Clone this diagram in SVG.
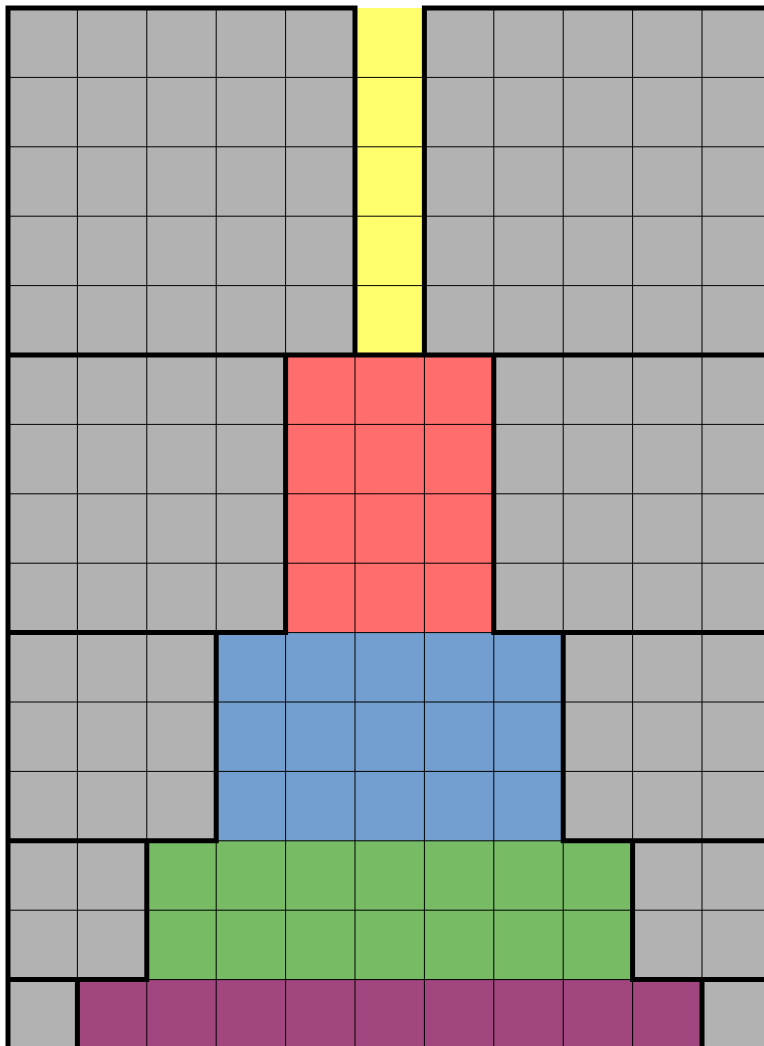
<svg xmlns="http://www.w3.org/2000/svg" width="764" height="1046" viewBox="0 0 764 1046">
  <style>
    .grid { fill: none; stroke: #000; stroke-width: 1; }
    .thick { fill: none; stroke: #000; stroke-width: 5; stroke-linecap: square; stroke-linejoin: miter; }
  </style>
  <rect width="764" height="1046" fill="#ffffff"/>
  <g id="gray-area"><rect x="8" y="8" width="760" height="1042" fill="#b2b2b2"/></g>
  <g id="yellow-layer"><rect x="355" y="8" width="69.4" height="347" fill="#ffff6d"/></g>
  <g id="red-layer"><rect x="285.6" y="355" width="208.2" height="277.6" fill="#ff6d6d"/></g>
  <g id="blue-layer"><rect x="216.2" y="632.6" width="347" height="208.2" fill="#729fcf"/></g>
  <g id="green-layer"><rect x="146.8" y="840.8" width="485.8" height="138.8" fill="#77bc65"/></g>
  <g id="purple-layer"><rect x="77.4" y="979.6" width="624.6" height="70" fill="#a1467e"/></g>
  <g id="grid-lines">
    <path class="grid" d="M77.4,8V1046M146.8,8V1046M216.2,8V1046M285.6,8V1046M355,8V1046M424.4,8V1046M493.8,8V1046M563.2,8V1046M632.6,8V1046M702,8V1046
    M8,77.4H764M8,146.8H764M8,216.2H764M8,285.6H764M8,355H764M8,424.4H764M8,493.8H764M8,563.2H764M8,632.6H764M8,702H764M8,771.4H764M8,840.8H764M8,910.2H764M8,979.6H764"/>
  </g>
  <g id="connectors">
    <path class="thick" d="M8,1048V8H355V355M424.4,355V8H766M8,355H766
    M285.6,355V632.6M493.8,355V632.6M8,632.6H285.6M493.8,632.6H766
    M216.2,632.6V840.8M563.2,632.6V840.8M8,840.8H216.2M563.2,840.8H766
    M146.8,840.8V979.6M632.6,840.8V979.6M8,979.6H146.8M632.6,979.6H766
    M77.4,979.6V1048M702,979.6V1048"/>
  </g>
</svg>
